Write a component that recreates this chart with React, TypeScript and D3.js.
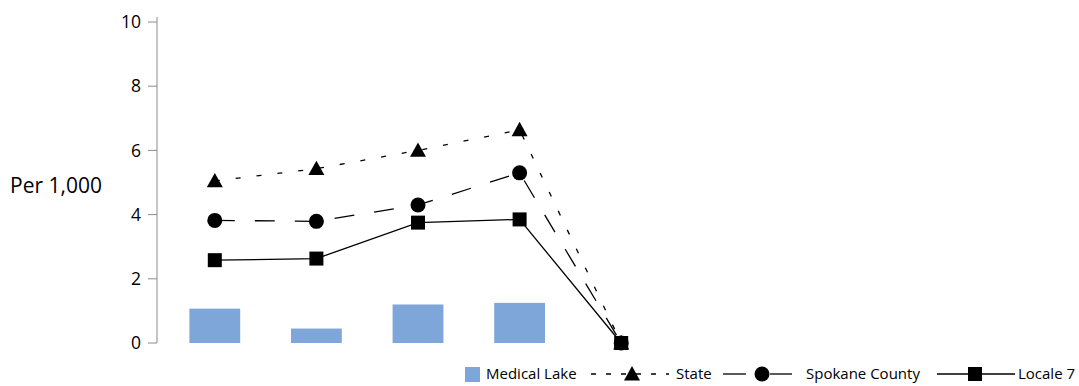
import React from "react";
import * as d3 from "d3";

const categories = ["A", "B", "C", "D", "E"];
const medicalLake: (number | null)[] = [1.07, 0.45, 1.2, 1.25, null];
const stateVals = [5.05, 5.43, 6.0, 6.64, 0];
const spokaneVals = [3.82, 3.79, 4.3, 5.3, 0];
const locale7Vals = [2.58, 2.63, 3.75, 3.85, 0];
const yTicks = [0, 2, 4, 6, 8, 10];

const W = 1079;
const H = 386;
const FONT = "'Open Sans', sans-serif";

export default function App() {
  const y = d3.scaleLinear().domain([0, 10]).range([343, 22]);
  const x = d3.scaleBand<string>().domain(categories).range([164, 672]).paddingInner(0.5).paddingOuter(0.25);
  const cx = (c: string) => (x(c) as number) + x.bandwidth() / 2;
  const bw = x.bandwidth();
  const line = d3
    .line<number>()
    .x((_, i) => cx(categories[i]))
    .y((d) => y(d));

  const tri = (px: number, py: number, s = 8) =>
    `M${px},${py - s}L${px + s},${py + s * 0.8}L${px - s},${py + s * 0.8}Z`;

  return (
    <svg width={W} height={H} style={{ position: "absolute", left: 0, top: 0 }}>
      <rect width={W} height={H} fill="#fff" />
      {/* y axis */}
      <line x1={157} x2={157} y1={17} y2={343} stroke="#8c8c8c" strokeWidth={1} />
      {yTicks.map((t) => (
        <g key={t}>
          <line x1={148} x2={157} y1={y(t)} y2={y(t)} stroke="#8c8c8c" />
          <text x={141} y={y(t)} dy="0.35em" textAnchor="end" fontFamily={FONT} fontSize={17.5} fill="#000">
            {t}
          </text>
        </g>
      ))}
      <text x={10} y={186} dy="0.35em" fontFamily={FONT} fontSize={21} fill="#000">
        Per 1,000
      </text>
      {/* bars */}
      {medicalLake.map((v, i) =>
        v == null ? null : (
          <rect key={i} x={x(categories[i])} y={y(v)} width={bw} height={y(0) - y(v)} fill="#7ea6d8" />
        )
      )}
      {/* lines */}
      <path d={line(stateVals) || ""} fill="none" stroke="#000" strokeWidth={1.3} strokeDasharray="5,16" />
      <path d={line(spokaneVals) || ""} fill="none" stroke="#000" strokeWidth={1.3} strokeDasharray="20,20" />
      <path d={line(locale7Vals) || ""} fill="none" stroke="#000" strokeWidth={1.3} />
      {stateVals.map((v, i) => (
        <path key={"s" + i} d={tri(cx(categories[i]), y(v))} fill="#000" />
      ))}
      {spokaneVals.map((v, i) => (
        <circle key={"c" + i} cx={cx(categories[i])} cy={y(v)} r={7.5} fill="#000" />
      ))}
      {locale7Vals.map((v, i) => (
        <rect key={"q" + i} x={cx(categories[i]) - 7} y={y(v) - 7} width={14} height={14} fill="#000" />
      ))}
      {/* legend */}
      <g fontFamily={FONT} fontSize={15} fill="#000">
        <rect x={465} y={367} width={15} height={15} fill="#7ea6d8" />
        <text x={486} y={374} dy="0.35em">Medical Lake</text>
        <line x1={591} x2={669} y1={374} y2={374} stroke="#000" strokeWidth={1.3} strokeDasharray="5,10" />
        <path d={tri(632, 374, 8)} fill="#000" />
        <text x={676} y={374} dy="0.35em">State</text>
        <line x1={723} x2={746} y1={374} y2={374} stroke="#000" strokeWidth={1.3} />
        <line x1={770} x2={792} y1={374} y2={374} stroke="#000" strokeWidth={1.3} />
        <circle cx={762} cy={374} r={7.5} fill="#000" />
        <text x={806} y={374} dy="0.35em">Spokane County</text>
        <line x1={937} x2={1015} y1={374} y2={374} stroke="#000" strokeWidth={1.3} />
        <rect x={968} y={367} width={14} height={14} fill="#000" />
        <text x={1018} y={374} dy="0.35em">Locale 7</text>
      </g>
    </svg>
  );
}
